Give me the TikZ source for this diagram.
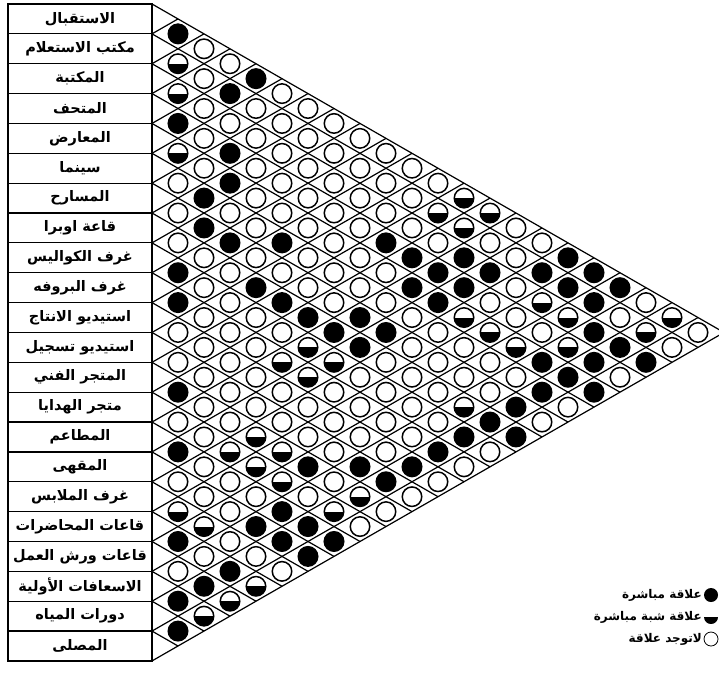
\documentclass[tikz,border=0pt]{standalone}
\usepackage{fontspec}
\newfontfamily\arabicfont[Script=Arabic]{DejaVu Sans}
\TeXXeTstate=1
\def\rh{29.86}
\def\hh{14.93}
\newcommand\mycol[2]{\foreach \v [count=\j] in {#2} {\node[st\v] (p#1-\j) at ({178+(#1-1)*26},{4+\hh*(#1-1+2*\j)}) {};}}
\begin{document}
\begin{tikzpicture}[x=1pt,y=-1pt,
  cir/.style={circle,draw=black,line width=1.5pt,minimum size=19.5pt,inner sep=0pt,fill=white},
  stF/.style={cir,fill=black},
  stE/.style={cir},
  stH/.style={cir,path picture={\fill[black] (path picture bounding box.west) rectangle (path picture bounding box.south east);}},
  grid/.style={line width=1.2pt,black},
  lab/.style={draw=black,line width=1.2pt,minimum width=144pt,minimum height=29.86pt,inner sep=0pt,font=\arabicfont\bfseries\fontsize{14.5}{16}\selectfont},
  legtxt/.style={anchor=east,inner sep=0pt,font=\arabicfont\bfseries\fontsize{12}{14}\selectfont}
]
\clip (0,0) rectangle (719,675);
% grid lines
\foreach \k in {0,...,21} {
  \draw[grid] (152,{4+\rh*\k}) -- ++({26*(22-\k)},{\hh*(22-\k)});
}
\foreach \k in {1,...,22} {
  \draw[grid] (152,{4+\rh*\k}) -- ++({26*\k},{-\hh*\k});
}
% labels
\foreach \t [count=\i] in {الاستقبال,مكتب الاستعلام,المكتبة,المتحف,المعارض,سينما,المسارح,قاعة اوبرا,غرف الكواليس,غرف البروفه,استيديو الانتاج,استيديو تسجيل,المتجر الفني,متجر الهدايا,المطاعم,المقهى,غرف الملابس,قاعات المحاضرات,قاعات ورش العمل,الاسعافات الأولية,دورات المياه,المصلى} {
  \node[lab] (L\i) at (80,{4+\rh*(\i-0.5)}) {\beginR\t\endR};
}
% relation circles
\mycol{1}{F,H,H,F,H,E,E,E,F,F,E,E,F,E,F,E,H,F,E,F,F}
\mycol{2}{E,E,E,E,E,F,F,E,E,E,E,E,E,E,E,E,H,E,F,H}
\mycol{3}{E,F,E,F,F,E,F,E,E,E,E,E,E,H,E,E,E,F,H}
\mycol{4}{F,E,E,E,E,E,E,F,E,E,E,E,H,H,E,F,E,H}
\mycol{5}{E,E,E,E,E,F,E,F,E,H,E,E,H,H,F,F,E}
\mycol{6}{E,E,E,E,E,E,E,F,H,H,E,E,F,E,F,F}
\mycol{7}{E,E,E,E,E,E,E,F,H,E,E,E,E,H,F}
\mycol{8}{E,E,E,E,E,E,F,F,E,E,E,F,H,E}
\mycol{9}{E,E,E,F,E,E,F,E,E,E,E,F,E}
\mycol{10}{E,E,E,F,F,E,E,E,E,E,F,E}
\mycol{11}{E,H,E,F,F,E,E,E,E,F,E}
\mycol{12}{H,H,F,F,H,E,E,H,F,E}
\mycol{13}{H,E,F,E,H,E,E,F,E}
\mycol{14}{E,E,E,E,H,E,F,F}
\mycol{15}{E,F,H,E,F,F,E}
\mycol{16}{F,F,H,H,F,E}
\mycol{17}{F,F,F,F,F}
\mycol{18}{F,E,F,E}
\mycol{19}{E,H,F}
\mycol{20}{H,E}
\mycol{21}{E}
% legend
\node[circle,fill=black,minimum size=14pt,inner sep=0pt] (g1) at (711,595) {};
\node[legtxt] (t1) at (702,595) {\beginR علاقة مباشرة\endR};
\node[circle,minimum size=14pt,inner sep=0pt,path picture={\fill[black] (path picture bounding box.west) rectangle (path picture bounding box.south east);}] (g2) at (711,617) {};
\node[legtxt] (t2) at (702,617) {\beginR علاقة شبة مباشرة\endR};
\node[circle,draw=black,line width=0.8pt,minimum size=14pt,inner sep=0pt] (g3) at (711,639) {};
\node[legtxt] (t3) at (702,639) {\beginR لاتوجد علاقة\endR};
\end{tikzpicture}
\end{document}
